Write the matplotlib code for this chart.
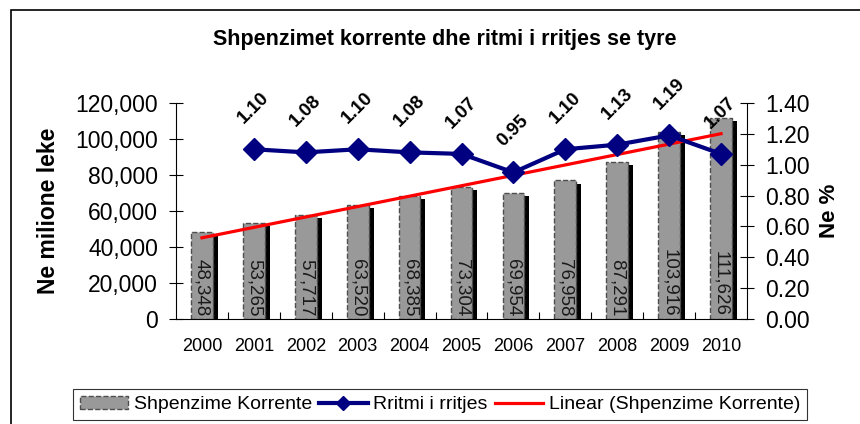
import numpy as np
import matplotlib
matplotlib.use('Agg')
import matplotlib.pyplot as plt
import matplotlib.patheffects as pe
from matplotlib.ticker import FuncFormatter, MultipleLocator
from matplotlib.patches import Rectangle, Patch
from matplotlib.lines import Line2D

plt.rcParams['font.family'] = ['Liberation Sans', 'DejaVu Sans']

# data
years = ['2000', '2001', '2002', '2003', '2004', '2005', '2006', '2007', '2008', '2009', '2010']
shpenzime = [48348, 53265, 57717, 63520, 68385, 73304, 69954, 76958, 87291, 103916, 111626]
rritja = [1.10, 1.08, 1.10, 1.08, 1.07, 0.95, 1.10, 1.13, 1.19, 1.07]  # 2001-2010

title = 'Shpenzimet korrente dhe ritmi i rritjes se tyre'
bar_color = '#999999'
navy = '#000080'

fig = plt.figure(figsize=(8.6, 4.24), dpi=100)
ax = fig.add_axes([176/860, 1-319/424, (747-176)/860, (319-103)/424])

x = np.arange(len(years))
bars = ax.bar(x, shpenzime, width=0.42, color=bar_color, edgecolor='#4d4d4d',
              linestyle='--', linewidth=1, zorder=2)
for b in bars:
    b.set_path_effects([pe.SimplePatchShadow(offset=(3.6, -2.2), shadow_rgbFace='black', alpha=1.0),
                        pe.Normal()])

for xi, v in zip(x, shpenzime):
    ax.text(xi, 1500, f"{v:,}", rotation=270, ha='center', va='bottom',
            fontsize=13.5, color='#1a1a1a', zorder=4)

# linear trend of the bars
coef = np.polyfit(x, shpenzime, 1)
ax.plot(x, np.polyval(coef, x), color='red', lw=2.3, zorder=3)

ax.set_xlim(-0.5, 10.5)
ax.set_ylim(0, 120000)
ax.yaxis.set_major_locator(MultipleLocator(20000))
ax.yaxis.set_major_formatter(FuncFormatter(lambda v, p: f"{v:,.0f}"))
ax.set_xticks(x, years)
ax.set_xticks(x[:-1] + 0.5, minor=True)
ax.tick_params(axis='x', which='major', length=0, labelsize=13, pad=14)
ax.tick_params(axis='x', which='minor', direction='in', length=5, width=0.8)
ax.tick_params(axis='y', direction='inout', length=10, width=0.8, labelsize=16.5, pad=8)
ax.spines['top'].set_visible(False)
ax.spines['right'].set_visible(False)
ax.set_ylabel('Ne milione leke', fontsize=16.5, fontweight='bold')
ax.yaxis.set_label_coords(-0.203, 0.5)

# growth rate on the right axis
ax2 = ax.twinx()
ax2.plot(x[1:], rritja, color=navy, lw=3, marker='D', ms=11, zorder=5)
for xi, v in zip(x[1:], rritja):
    ax2.annotate(f"{v:.2f}", (xi, v), xytext=(0, 16), textcoords='offset points',
                 rotation=45, ha='center', va='bottom', fontsize=13.5,
                 fontweight='bold', annotation_clip=False)
ax2.set_ylim(0, 1.4)
ax2.yaxis.set_major_locator(MultipleLocator(0.2))
ax2.yaxis.set_major_formatter(FuncFormatter(lambda v, p: f"{v:.2f}"))
ax2.tick_params(axis='y', direction='inout', length=10, width=0.8, labelsize=16.5, pad=8)
for s in ['top', 'left', 'bottom']:
    ax2.spines[s].set_visible(False)
ax2.set_ylabel('Ne %', fontsize=16, fontweight='bold')
ax2.yaxis.set_label_coords(1.126, 0.5)

fig.text(445/860, 1-40/424, title, ha='center', va='center', fontsize=15.5, fontweight='bold')

handles = [Patch(facecolor=bar_color, edgecolor='#4d4d4d', linestyle='--'),
           Line2D([], [], color=navy, lw=3, marker='D', ms=7),
           Line2D([], [], color='red', lw=2.3)]
labels = ['Shpenzime Korrente', 'Rritmi i rritjes', 'Linear (Shpenzime Korrente)']
leg = fig.legend(handles, labels, loc='center', bbox_to_anchor=(440/860, 1-404.5/424), ncol=3,
                 fontsize=14, frameon=True, fancybox=False, edgecolor='black',
                 handlelength=2.5, handletextpad=0.3, columnspacing=0.35,
                 borderpad=0.35, borderaxespad=0)
leg.get_frame().set_linewidth(0.8)

fig.add_artist(Rectangle((11/860, -0.05), 1.0, 1-10/424+0.05, transform=fig.transFigure,
                         fill=False, edgecolor='black', lw=1.2))

fig.savefig('out.png', dpi=100)
